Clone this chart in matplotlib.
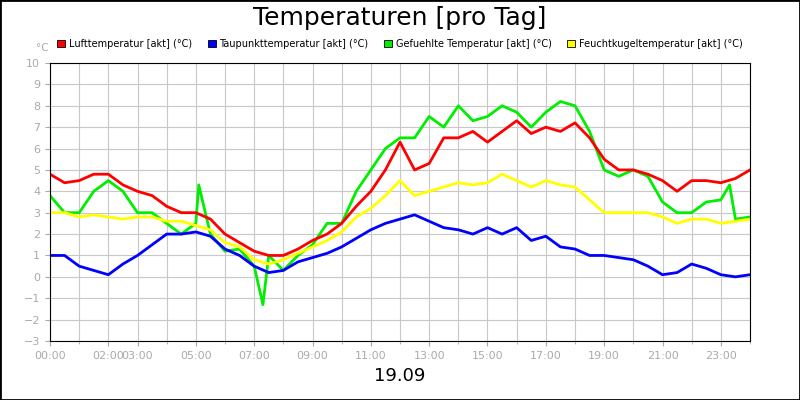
import numpy as np
from matplotlib import pyplot as plt
from matplotlib.patches import Patch, Rectangle

hours = [0, 0.5, 1, 1.5, 2, 2.5, 3, 3.5, 4, 4.5, 5, 5.5, 6, 6.5, 7, 7.5, 8, 8.5, 9, 9.5,
         10, 10.5, 11, 11.5, 12, 12.5, 13, 13.5, 14, 14.5, 15, 15.5, 16, 16.5, 17, 17.5,
         18, 18.5, 19, 19.5, 20, 20.5, 21, 21.5, 22, 22.5, 23, 23.5, 24]
luft = [4.8, 4.4, 4.5, 4.8, 4.8, 4.3, 4.0, 3.8, 3.3, 3.0, 3.0, 2.7, 2.0, 1.6, 1.2, 1.0, 1.0, 1.3, 1.7, 2.0,
        2.5, 3.3, 4.0, 5.0, 6.3, 5.0, 5.3, 6.5, 6.5, 6.8, 6.3, 6.8, 7.3, 6.7, 7.0, 6.8,
        7.2, 6.5, 5.5, 5.0, 5.0, 4.8, 4.5, 4.0, 4.5, 4.5, 4.4, 4.6, 5.0]
taupunkt = [1.0, 1.0, 0.5, 0.3, 0.1, 0.6, 1.0, 1.5, 2.0, 2.0, 2.1, 1.9, 1.3, 1.0, 0.5, 0.2, 0.3, 0.7, 0.9, 1.1,
            1.4, 1.8, 2.2, 2.5, 2.7, 2.9, 2.6, 2.3, 2.2, 2.0, 2.3, 2.0, 2.3, 1.7, 1.9, 1.4,
            1.3, 1.0, 1.0, 0.9, 0.8, 0.5, 0.1, 0.2, 0.6, 0.4, 0.1, 0.0, 0.1]
gefuehlt = [3.8, 3.0, 3.0, 4.0, 4.5, 4.0, 3.0, 3.0, 2.5, 2.0, 2.5, 2.0, 1.2, 1.3, 0.5, 1.0, 0.3, 1.0, 1.5, 2.5,
            2.5, 4.0, 5.0, 6.0, 6.5, 6.5, 7.5, 7.0, 8.0, 7.3, 7.5, 8.0, 7.7, 7.0, 7.7, 8.2,
            8.0, 6.8, 5.0, 4.7, 5.0, 4.7, 3.5, 3.0, 3.0, 3.5, 3.6, 2.7, 2.8]
feucht = [3.0, 3.0, 2.8, 2.9, 2.8, 2.7, 2.8, 2.8, 2.6, 2.6, 2.4, 2.2, 1.6, 1.4, 0.8, 0.6, 0.8, 1.1, 1.4, 1.7,
          2.1, 2.8, 3.2, 3.8, 4.5, 3.8, 4.0, 4.2, 4.4, 4.3, 4.4, 4.8, 4.5, 4.2, 4.5, 4.3,
          4.2, 3.6, 3.0, 3.0, 3.0, 3.0, 2.8, 2.5, 2.7, 2.7, 2.5, 2.6, 2.7]
# spikes in the green series
spike_h = [5.1, 7.3, 23.3]
spike_v = [4.3, -1.3, 4.3]

tick_hours = [0, 2, 3, 5, 7, 9, 11, 13, 15, 17, 19, 21, 23]
tick_labels = ["00:00", "02:00", "03:00", "05:00", "07:00", "09:00", "11:00",
               "13:00", "15:00", "17:00", "19:00", "21:00", "23:00"]
names = ["Lufttemperatur [akt] (°C)", "Taupunkttemperatur [akt] (°C)",
         "Gefuehlte Temperatur [akt] (°C)", "Feuchtkugeltemperatur [akt] (°C)"]
colors = ["#ff0000", "#0000ff", "#00ee00", "#ffff00"]

fig = plt.figure(figsize=(8, 4), dpi=100)
fig.patches.append(Rectangle((0, 0), 1, 1, transform=fig.transFigure, fill=False,
                             edgecolor="black", linewidth=2))
ax = fig.add_axes([0.0625, 0.1475, 0.875, 0.695])

g_h = np.array(hours + spike_h)
g_v = np.array(gefuehlt + spike_v)
order = np.argsort(g_h)
ax.plot(g_h[order], g_v[order], color=colors[2], lw=2)
ax.plot(hours, feucht, color=colors[3], lw=2)
ax.plot(hours, luft, color=colors[0], lw=2)
ax.plot(hours, taupunkt, color=colors[1], lw=2)

ax.set_xlim(0, 24)
ax.set_ylim(-3, 10)
ax.set_yticks(range(-3, 11))
ax.set_xticks(range(0, 25), minor=True)
ax.set_xticks(tick_hours)
ax.set_xticklabels(tick_labels)
ax.grid(True, which="both", color="#c8c8c8", lw=0.8)
ax.tick_params(which="both", colors="#aaaaaa", labelsize=8, labelcolor="#aaaaaa")
for s in ax.spines.values():
    s.set_color("black")

fig.text(0.5, 0.955, "Temperaturen [pro Tag]", ha="center", va="center", fontsize=18)
fig.text(0.5, 0.06, "19.09", ha="center", va="center", fontsize=13)
fig.text(0.045, 0.88, "°C", ha="left", va="center", fontsize=7.5, color="#aaaaaa")
handles = [Patch(facecolor=c, edgecolor="black", linewidth=0.6) for c in colors]
fig.legend(handles, names, loc="center", bbox_to_anchor=(0.5, 0.89), ncol=4, frameon=False,
           fontsize=7, handlelength=0.8, handleheight=0.8, handletextpad=0.4, columnspacing=1.6)

fig.savefig("out.png")
